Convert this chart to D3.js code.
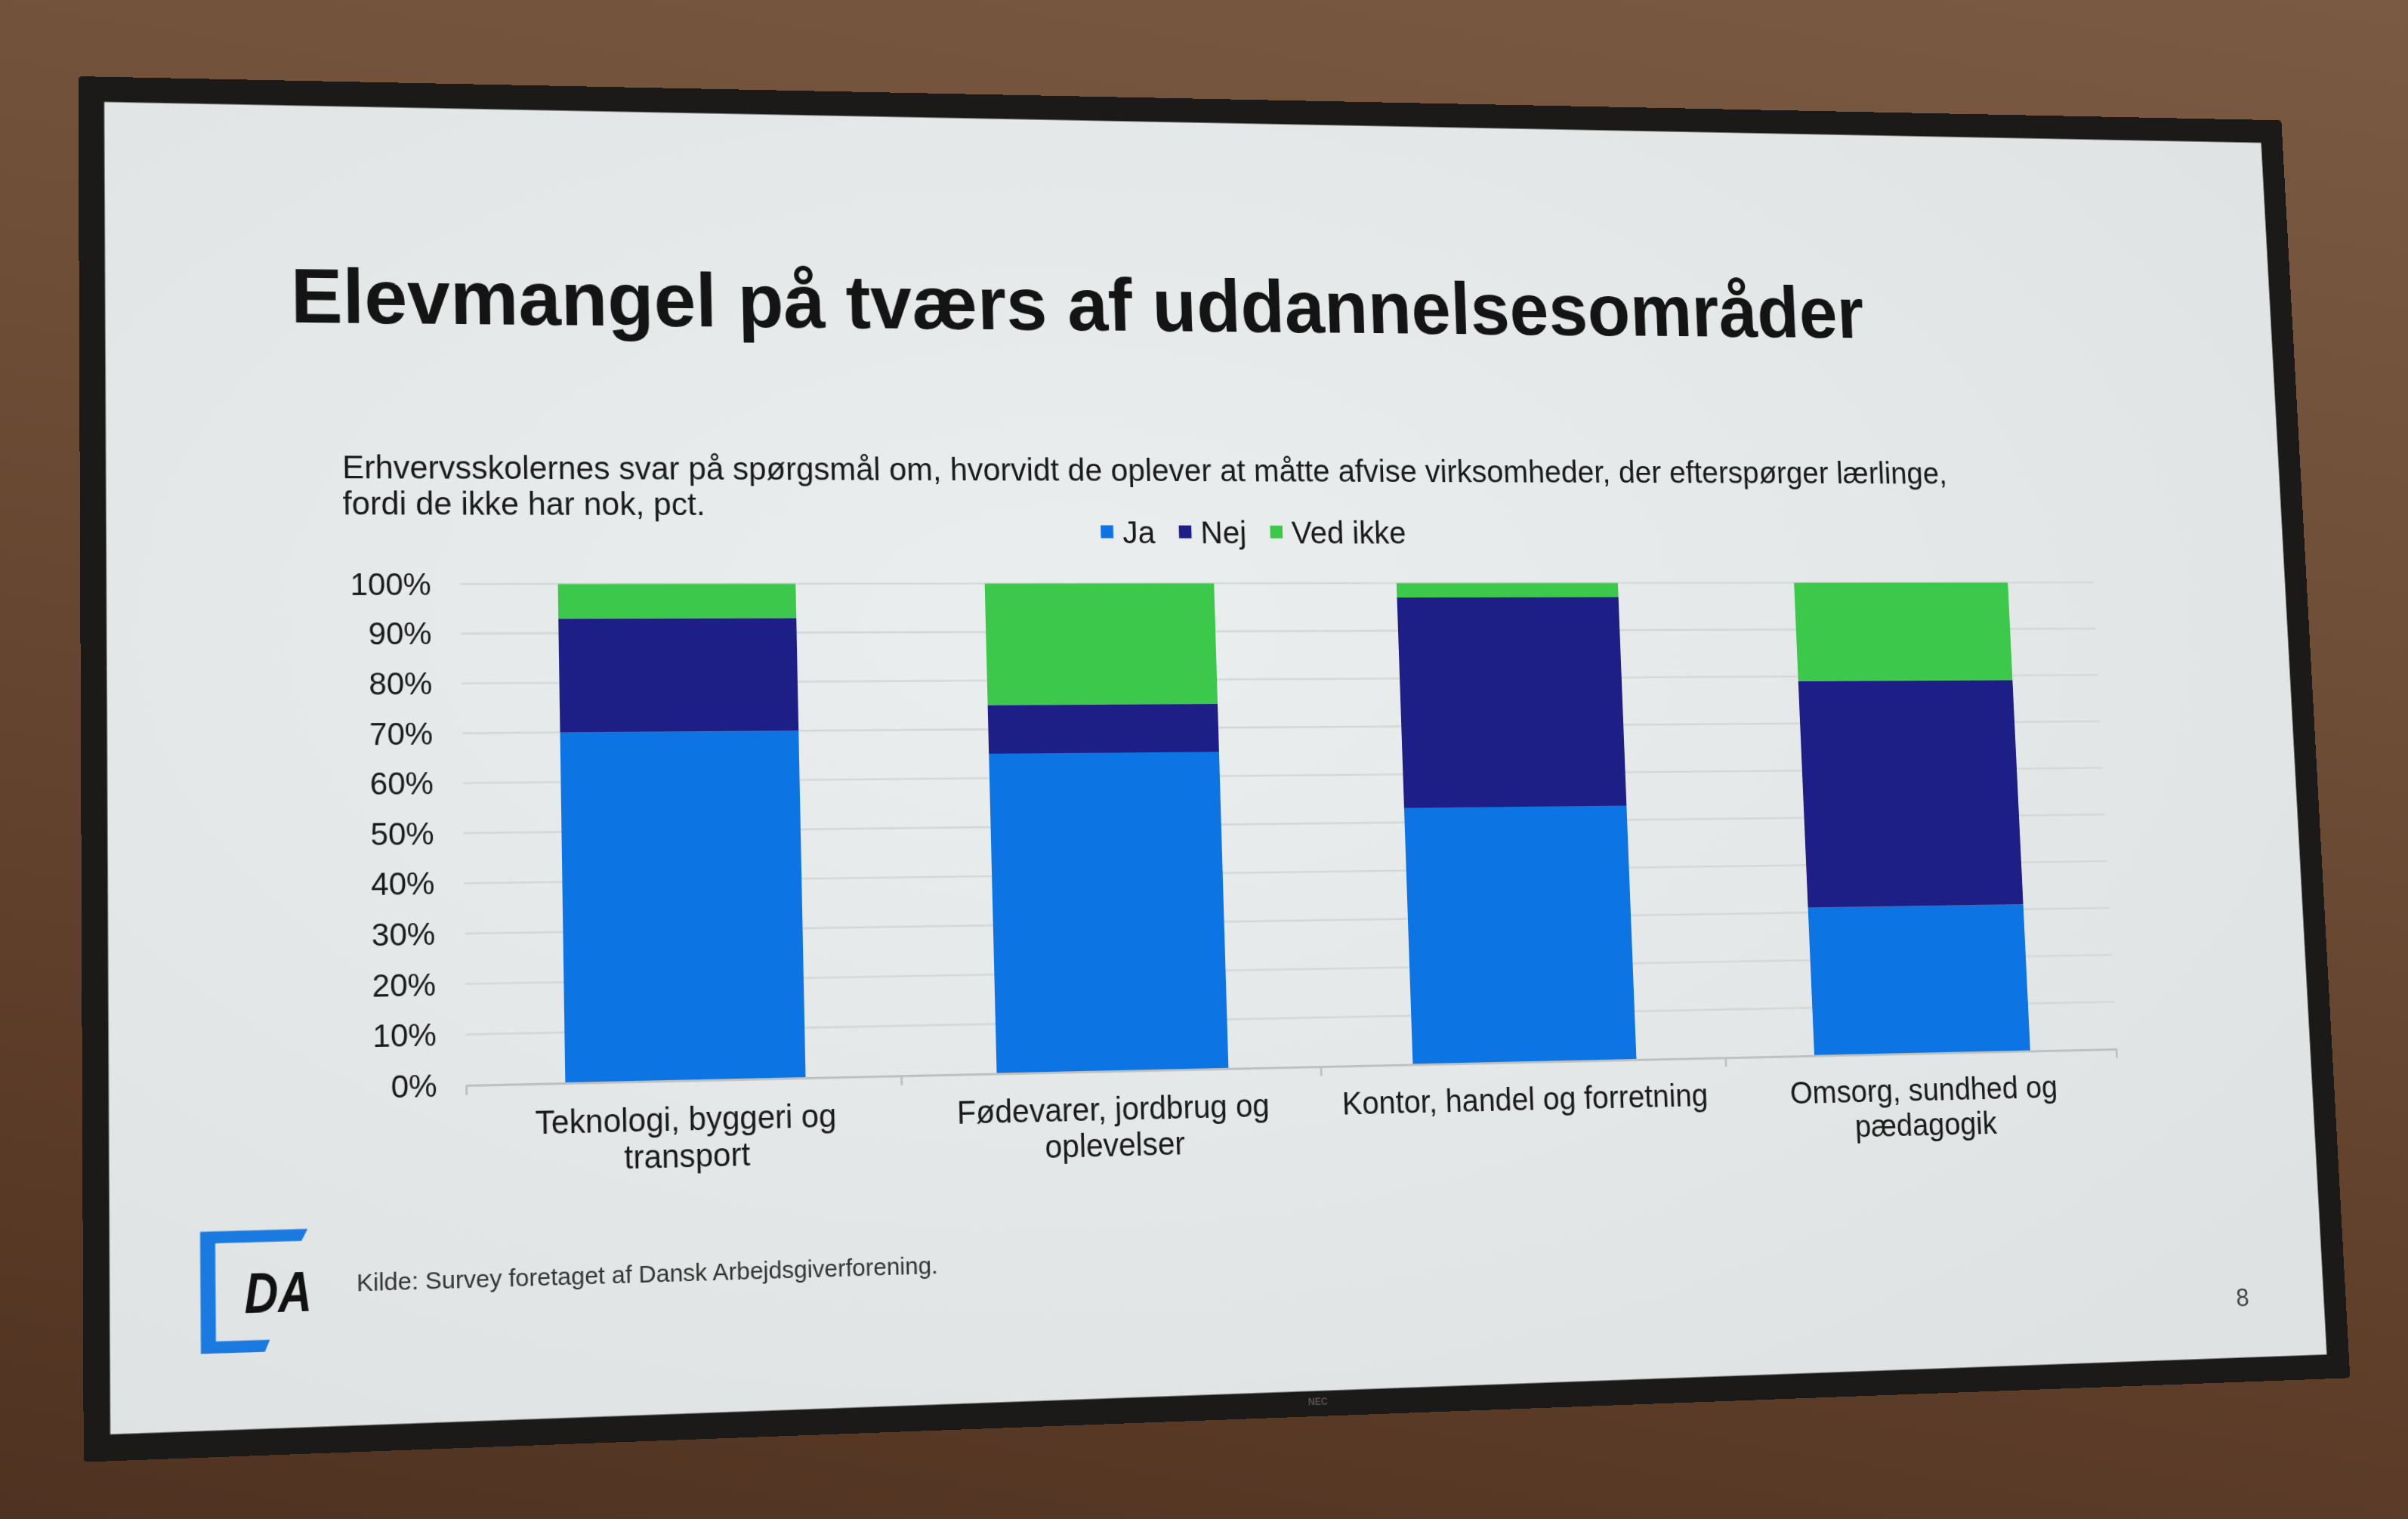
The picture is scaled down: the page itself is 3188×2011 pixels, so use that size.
<!DOCTYPE html>
<html>
<head>
<meta charset="utf-8">
<script src="https://cdn.jsdelivr.net/npm/d3@7"></script>
<style>
html, body { margin:0; padding:0; width:3188px; height:2011px; overflow:hidden; }
body { background: linear-gradient(190deg, #7a5a43 0%, #6e4e37 35%, #5f3f2a 70%, #4f3221 100%); }
#screen { position:absolute; left:0; top:0; transform-origin:0 0; }
text { font-family: "Liberation Sans", Arial, sans-serif; }
</style>
</head>
<body>
<div id="screen"></div>
<script>
// ---------------- data ----------------
const categories = [
  "Teknologi, byggeri og transport",
  "Fødevarer, jordbrug og oplevelser",
  "Kontor, handel og forretning",
  "Omsorg, sundhed og pædagogik"
];
const categoryLines = [
  ["Teknologi, byggeri og", "transport"],
  ["Fødevarer, jordbrug og", "oplevelser"],
  ["Kontor, handel og forretning"],
  ["Omsorg, sundhed og", "pædagogik"]
];
const seriesNames = ["Ja", "Nej", "Ved ikke"];
const ja      = [70, 65, 53, 31];
const nej     = [23, 10, 44, 48];
const vedIkke = [7, 25, 3, 21];
const yTicks  = [0, 10, 20, 30, 40, 50, 60, 70, 80, 90, 100];
const seriesColors = ["#0d74e4", "#1e1f86", "#3cc84b"];

const titleText = "Elevmangel på tværs af uddannelsesområder";
const subtitleLines = [
  "Erhvervsskolernes svar på spørgsmål om, hvorvidt de oplever at måtte afvise virksomheder, der efterspørger lærlinge,",
  "fordi de ikke har nok, pct."
];
const sourceText = "Kilde: Survey foretaget af Dansk Arbejdsgiverforening.";
const pageNumber = "8";

// ---------------- slide geometry (logical slide 1920x1080) ----------------
const W = 1920, H = 1080, BZ = 21, S = 1.5;
// where the slide's corners appear in the photo (TL, TR, BR, BL)
const quad = [[138,135],[2993,189],[3080,1793],[146,1899]];

function solve(A, b) {
  const n = b.length;
  const M = A.map((r, i) => r.concat([b[i]]));
  for (let c = 0; c < n; c++) {
    let p = c;
    for (let r = c + 1; r < n; r++) if (Math.abs(M[r][c]) > Math.abs(M[p][c])) p = r;
    [M[c], M[p]] = [M[p], M[c]];
    for (let r = 0; r < n; r++) {
      if (r === c) continue;
      const f = M[r][c] / M[c][c];
      for (let k = c; k <= n; k++) M[r][k] -= f * M[c][k];
    }
  }
  return M.map((r, i) => r[n] / r[i]);
}
function homography(src, dst) {
  const A = [], b = [];
  for (let i = 0; i < 4; i++) {
    const [x, y] = src[i], [u, v] = dst[i];
    A.push([x, y, 1, 0, 0, 0, -x * u, -y * u]); b.push(u);
    A.push([0, 0, 0, x, y, 1, -x * v, -y * v]); b.push(v);
  }
  return solve(A, b);
}
const P = (X, Y) => [(X + BZ) * S, (Y + BZ) * S];
const hm = homography([P(0,0), P(W,0), P(W,H), P(0,H)], quad);
const m3d = [hm[0], hm[3], 0, hm[6], hm[1], hm[4], 0, hm[7], 0, 0, 1, 0, hm[2], hm[5], 0, 1];
const screen = document.getElementById("screen");
screen.style.transform = "matrix3d(" + m3d.join(",") + ")";

const svg = d3.select("#screen").append("svg")
  .attr("width", (W + 2 * BZ) * S)
  .attr("height", (H + 2 * BZ) * S)
  .attr("viewBox", [-BZ, -BZ, W + 2 * BZ, H + 2 * BZ].join(" "))
  .style("display", "block");

const defs = svg.append("defs");
const rg = defs.append("radialGradient").attr("id", "slideBg")
  .attr("cx", "42%").attr("cy", "40%").attr("r", "75%");
rg.append("stop").attr("offset", "0%").attr("stop-color", "#eaeeee");
rg.append("stop").attr("offset", "100%").attr("stop-color", "#dee2e2");

// bezel + slide
svg.append("rect").attr("x", -BZ).attr("y", -BZ).attr("width", W + 2 * BZ).attr("height", H + 2 * BZ)
  .attr("rx", 3).attr("fill", "#1c1a19");
svg.append("rect").attr("x", 0).attr("y", 0).attr("width", W).attr("height", H).attr("fill", "url(#slideBg)");
svg.append("text").attr("x", 1000).attr("y", H + 12).attr("text-anchor", "middle")
  .attr("font-size", 8).attr("fill", "#55524f").attr("font-weight", "bold").text("NEC");

// title & subtitle
svg.append("text").attr("x", 151).attr("y", 182)
  .attr("font-size", 64).attr("font-weight", "bold").attr("fill", "#141414").text(titleText);
svg.append("g").selectAll("text").data(subtitleLines).join("text")
  .attr("x", 192).attr("y", (d, i) => 311 + i * 30)
  .attr("font-size", 27).attr("fill", "#1a1a1a").text(d => d);

// ---------------- chart ----------------
const plot = { left: 288, right: 1736, top: 398.6, bottom: 809.4 };
const x = d3.scaleBand().domain(categories).range([plot.left, plot.right])
  .paddingInner(0.4475).paddingOuter(0.2238);
const y = d3.scaleLinear().domain([0, 100]).range([plot.bottom, plot.top]);
const color = d3.scaleOrdinal().domain(seriesNames).range(seriesColors);

const rows = categories.map((c, i) => ({ cat: c, "Ja": ja[i], "Nej": nej[i], "Ved ikke": vedIkke[i] }));
const stacked = d3.stack().keys(seriesNames)(rows);

// gridlines
svg.append("g").selectAll("line").data(yTicks.filter(t => t > 0)).join("line")
  .attr("x1", plot.left).attr("x2", plot.right)
  .attr("y1", d => y(d)).attr("y2", d => y(d))
  .attr("stroke", "#d4d7d6").attr("stroke-width", 1.6);

// y axis labels
const yAxis = svg.append("g").attr("transform", `translate(${plot.left},0)`)
  .call(d3.axisLeft(y).tickValues(yTicks).tickFormat(d => d + "%").tickSize(0).tickPadding(24));
yAxis.select(".domain").remove();
yAxis.selectAll("text").attr("font-size", 26).attr("fill", "#1a1a1a")
  .attr("font-family", "'Liberation Sans', Arial, sans-serif");

// bars
svg.append("g").selectAll("g").data(stacked).join("g")
  .attr("fill", d => color(d.key))
  .selectAll("rect").data(d => d).join("rect")
  .attr("x", d => x(d.data.cat))
  .attr("width", x.bandwidth())
  .attr("y", d => y(d[1]))
  .attr("height", d => y(d[0]) - y(d[1]));

// x axis
const xAxis = svg.append("g").attr("transform", `translate(0,${plot.bottom})`)
  .call(d3.axisBottom(x).tickSize(0).tickFormat(""));
xAxis.select(".domain").attr("stroke", "#bdbfbe").attr("stroke-width", 1.8);
const bounds = d3.range(categories.length + 1).map(i => plot.left + i * x.step());
svg.append("g").selectAll("line").data(bounds).join("line")
  .attr("x1", d => d).attr("x2", d => d)
  .attr("y1", plot.bottom).attr("y2", plot.bottom + 8)
  .attr("stroke", "#bdbfbe").attr("stroke-width", 1.8);
xAxis.selectAll(".tick").each(function(d, i) {
  const t = d3.select(this).select("text").attr("y", 0).attr("dy", null)
    .attr("font-size", 26.5).attr("fill", "#1a1a1a")
    .attr("font-family", "'Liberation Sans', Arial, sans-serif");
  t.selectAll("tspan").data(categoryLines[i]).join("tspan")
    .attr("x", 0).attr("y", (l, j) => 41 + j * 30).text(l => l);
});

// legend
const legend = svg.append("g");
const items = legend.selectAll("g").data(seriesNames).join("g");
items.append("rect").attr("width", 11).attr("height", 11).attr("y", -6).attr("fill", d => color(d));
items.append("text").attr("x", 19).attr("y", 9).attr("font-size", 27).attr("fill", "#1a1a1a").text(d => d);
let cx = 0;
items.each(function() {
  const g = d3.select(this);
  g.attr("transform", `translate(${cx},0)`);
  cx += 19 + g.select("text").node().getComputedTextLength() + 21;
});
const legendW = cx - 21;
const legendCenter = (200 + plot.right) / 2;
legend.attr("transform", `translate(${legendCenter - legendW / 2},355)`);

// footer: logo, source, page number
const logo = svg.append("g");
logo.append("path").attr("fill", "#1b7ae0")
  .attr("d", "M72,922 L158,922 L153,931.5 L84,931.5 L84,1009.5 L127,1009.5 L123,1019 L72,1019 Z");
logo.append("text").attr("x", 107).attr("y", 988)
  .attr("font-size", 46).attr("font-weight", "bold").attr("font-style", "italic")
  .attr("textLength", 54).attr("lengthAdjust", "spacingAndGlyphs")
  .attr("fill", "#111").text("DA");
svg.append("text").attr("x", 197).attr("y", 973).attr("font-size", 20).attr("fill", "#333").text(sourceText);
svg.append("text").attr("x", 1843).attr("y", 1036).attr("text-anchor", "middle")
  .attr("font-size", 22).attr("fill", "#444").text(pageNumber);
</script>
</body>
</html>
